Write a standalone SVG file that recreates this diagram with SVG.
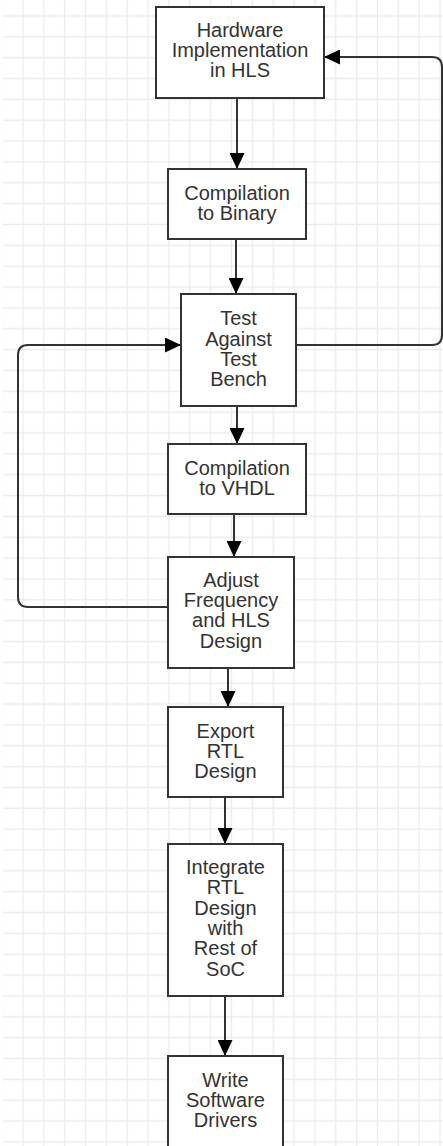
<svg xmlns="http://www.w3.org/2000/svg" width="443" height="1146" viewBox="0 0 443 1146">
  <defs>
    <pattern id="grid" patternUnits="userSpaceOnUse" x="12.575" y="5.575" width="20.85" height="20.85">
      <path d="M10.425 0V20.85M0 10.425H20.85" fill="none" stroke="#ebebeb" stroke-width="1.3"/>
    </pattern>
    <marker id="arrow" markerUnits="userSpaceOnUse" markerWidth="16" markerHeight="15" refX="16" refY="7.5" orient="auto">
      <path d="M0,0 L16,7.5 L0,15 Z" fill="#000"/>
    </marker>
    <style>
      .box { fill: #fff; stroke: #333; stroke-width: 2; }
      .lbl { font-family: "Liberation Sans", Arial, sans-serif; font-size: 20px; fill: #333; text-anchor: middle; }
      .edge { fill: none; stroke: #333; stroke-width: 2; marker-end: url(#arrow); }
    </style>
  </defs>

  <rect x="0" y="0" width="443" height="1146" fill="#fff"/>
  <rect x="3" y="0" width="440" height="1146" fill="url(#grid)"/>

  <g id="connectors">
    <path class="edge" d="M237,98 V169"/>
    <path class="edge" d="M236,239 V294"/>
    <path class="edge" d="M237,406 V444"/>
    <path class="edge" d="M234,514 V557"/>
    <path class="edge" d="M228,668 V707"/>
    <path class="edge" d="M225,797 V844"/>
    <path class="edge" d="M225,996 V1056"/>
    <path class="edge" d="M168,607 H28 Q18,607 18,597 V355 Q18,345 28,345 H181"/>
    <path class="edge" d="M296,345 H432 Q442,345 442,335 V67 Q442,57 432,57 H324"/>
  </g>

  <g id="hw-impl">
    <rect class="box" x="156" y="7" width="168" height="91"/>
    <text class="lbl" x="240"><tspan x="240" y="37">Hardware</tspan><tspan x="240" y="57">Implementation</tspan><tspan x="240" y="77">in HLS</tspan></text>
  </g>

  <g id="compile-binary">
    <rect class="box" x="168" y="169" width="138" height="70"/>
    <text class="lbl"><tspan x="237" y="200">Compilation</tspan><tspan x="237" y="220">to Binary</tspan></text>
  </g>

  <g id="test-bench">
    <rect class="box" x="181" y="294" width="115" height="112"/>
    <text class="lbl"><tspan x="238.5" y="325">Test</tspan><tspan x="238.5" y="345.5">Against</tspan><tspan x="238.5" y="365.5">Test</tspan><tspan x="238.5" y="386">Bench</tspan></text>
  </g>

  <g id="compile-vhdl">
    <rect class="box" x="168" y="444" width="138" height="70"/>
    <text class="lbl"><tspan x="237" y="475">Compilation</tspan><tspan x="237" y="495">to VHDL</tspan></text>
  </g>

  <g id="adjust">
    <rect class="box" x="168" y="557" width="126" height="111"/>
    <text class="lbl"><tspan x="231" y="586.5">Adjust</tspan><tspan x="231" y="607">Frequency</tspan><tspan x="231" y="627">and HLS</tspan><tspan x="231" y="647.5">Design</tspan></text>
  </g>

  <g id="export-rtl">
    <rect class="box" x="168" y="707" width="115" height="90"/>
    <text class="lbl"><tspan x="225.5" y="737.5">Export</tspan><tspan x="225.5" y="757.5">RTL</tspan><tspan x="225.5" y="777.5">Design</tspan></text>
  </g>

  <g id="integrate">
    <rect class="box" x="168" y="844" width="115" height="152"/>
    <text class="lbl"><tspan x="225.5" y="874">Integrate</tspan><tspan x="225.5" y="894.3">RTL</tspan><tspan x="225.5" y="914.6">Design</tspan><tspan x="225.5" y="934.9">with</tspan><tspan x="225.5" y="955.2">Rest of</tspan><tspan x="225.5" y="975.5">SoC</tspan></text>
  </g>

  <g id="drivers">
    <rect class="box" x="168" y="1056" width="115" height="96"/>
    <text class="lbl"><tspan x="225.5" y="1086.5">Write</tspan><tspan x="225.5" y="1106.8">Software</tspan><tspan x="225.5" y="1127">Drivers</tspan></text>
  </g>
</svg>
